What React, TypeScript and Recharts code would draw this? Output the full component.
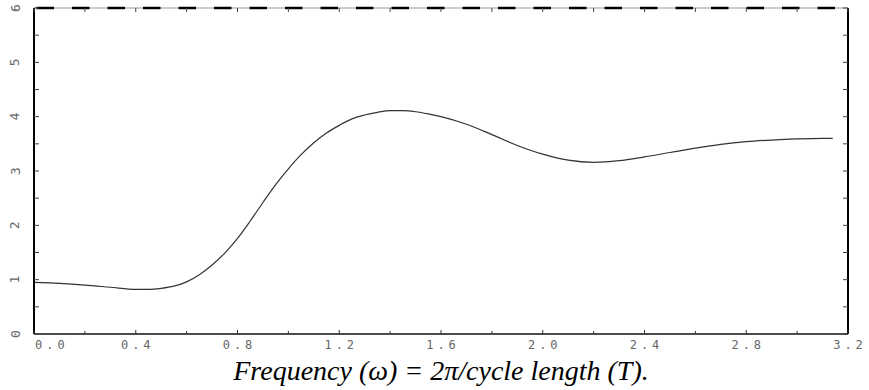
import React from "react";
import { LineChart, Line, XAxis, YAxis, ReferenceLine } from "recharts";

// Frequency values (omega) and spectrum values
const omega = [
  0.0, 0.1, 0.2, 0.3, 0.4, 0.45, 0.5, 0.55, 0.6, 0.65, 0.7, 0.75, 0.8, 0.85,
  0.9, 0.95, 1.0, 1.05, 1.1, 1.15, 1.2, 1.25, 1.3, 1.35, 1.4, 1.45, 1.5, 1.55,
  1.6, 1.7, 1.8, 1.9, 2.0, 2.1, 2.2, 2.3, 2.4, 2.5, 2.6, 2.7, 2.8, 2.9, 3.0,
  3.1, 3.14,
];
const spectrum = [
  0.95, 0.93, 0.9, 0.86, 0.82, 0.82, 0.84, 0.88, 0.96, 1.09, 1.27, 1.49, 1.76,
  2.08, 2.42, 2.75, 3.04, 3.3, 3.52, 3.7, 3.84, 3.96, 4.03, 4.08, 4.11, 4.11,
  4.09, 4.05, 4.0, 3.86, 3.67, 3.47, 3.31, 3.2, 3.16, 3.19, 3.26, 3.34, 3.42,
  3.49, 3.54, 3.57, 3.59, 3.6, 3.6,
];

const xTicks = [
  0, 0.2, 0.4, 0.6, 0.8, 1.0, 1.2, 1.4, 1.6, 1.8, 2.0, 2.2, 2.4, 2.6, 2.8, 3.0,
  3.2,
];
const xMajorTicks = [0, 0.4, 0.8, 1.2, 1.6, 2.0, 2.4, 2.8, 3.2];
const xTickLabels = ["0.0", "0.4", "0.8", "1.2", "1.6", "2.0", "2.4", "2.8", "3.2"];

const yTicks = [0, 0.5, 1, 1.5, 2, 2.5, 3, 3.5, 4, 4.5, 5, 5.5, 6];
const yMajorTicks = [0, 1, 2, 3, 4, 5, 6];
const yTickLabels = ["0", "1", "2", "3", "4", "5", "6"];

const xTitle = "Frequency (\u03C9) = 2\u03C0/cycle length (T).";

const data = omega.map((x, i) => ({ x, y: spectrum[i] }));

const findIdx = (arr: number[], v: number) =>
  arr.findIndex((a) => Math.abs(a - v) < 1e-6);

const tickFont = {
  fontFamily: "DejaVu Sans Mono",
  fontSize: 12,
  fill: "#666",
  letterSpacing: 4,
};

const BottomTick = (props: any) => {
  const { x, y, payload } = props;
  const idx = findIdx(xMajorTicks, payload.value);
  const major = idx >= 0;
  const first = idx === 0;
  return (
    <g>
      <line x1={x} y1={y} x2={x} y2={y - (major ? 4 : 3)} stroke="#333" strokeWidth={1} />
      {major && (
        <text
          x={first ? x + 1 : x + 2}
          y={y + 15}
          textAnchor={first ? "start" : "middle"}
          {...tickFont}
        >
          {xTickLabels[idx]}
        </text>
      )}
    </g>
  );
};

const TopTick = (props: any) => {
  const { x, y } = props;
  return <line x1={x} y1={y} x2={x} y2={y + 4} stroke="#444" strokeWidth={1} />;
};

const LeftTick = (props: any) => {
  const { x, y, payload } = props;
  const idx = findIdx(yMajorTicks, payload.value);
  const lx = x - 19;
  return (
    <g>
      <line x1={x} y1={y} x2={x + 5} y2={y} stroke="#444" strokeWidth={1} />
      {idx >= 0 && (
        <text
          x={lx}
          y={y}
          textAnchor="middle"
          dominantBaseline="central"
          transform={`rotate(-90, ${lx}, ${y})`}
          fontFamily="DejaVu Sans Mono"
          fontSize={13}
          fill="#666"
        >
          {yTickLabels[idx]}
        </text>
      )}
    </g>
  );
};

const RightTick = (props: any) => {
  const { x, y } = props;
  return <line x1={x} y1={y} x2={x - 5} y2={y} stroke="#444" strokeWidth={1} />;
};

export default function App() {
  return (
    <div style={{ position: "absolute", left: 0, top: 0, background: "#fff" }}>
      <LineChart
        width={869}
        height={390}
        data={data}
        margin={{ top: 7, right: 20, bottom: 0, left: 0 }}
      >
        <XAxis
          dataKey="x"
          type="number"
          domain={[0, 3.2]}
          ticks={xTicks}
          interval={0}
          height={56}
          tickSize={0}
          tickMargin={0}
          tickLine={false}
          tick={<BottomTick />}
          axisLine={{ stroke: "#111", strokeWidth: 1.5 }}
          label={{
            value: xTitle,
            position: "insideBottom",
            offset: 10,
            style: {
              fontFamily: "Liberation Serif",
              fontStyle: "italic",
              fontSize: 28,
              fill: "#000",
            },
          }}
        />
        <XAxis
          xAxisId="top"
          orientation="top"
          dataKey="x"
          type="number"
          domain={[0, 3.2]}
          ticks={xTicks}
          interval={0}
          height={1}
          tickSize={0}
          tickMargin={0}
          tickLine={false}
          tick={<TopTick />}
          axisLine={{
            stroke: "#000",
            strokeWidth: 2.5,
            strokeDasharray: "17.5 18",
            strokeDashoffset: -2.5,
          }}
        />
        <YAxis
          type="number"
          domain={[0, 6]}
          ticks={yTicks}
          interval={0}
          width={34}
          tickSize={0}
          tickMargin={0}
          tickLine={false}
          tick={<LeftTick />}
          axisLine={{ stroke: "#000", strokeWidth: 2 }}
        />
        <YAxis
          yAxisId="right"
          orientation="right"
          type="number"
          domain={[0, 6]}
          ticks={yTicks}
          interval={0}
          width={1}
          tickSize={0}
          tickMargin={0}
          tickLine={false}
          tick={<RightTick />}
          axisLine={{ stroke: "#000", strokeWidth: 2 }}
        />
        <ReferenceLine y={6} stroke="#999" strokeWidth={1} />
        <Line
          xAxisId="top"
          yAxisId="right"
          type="monotone"
          dataKey="y"
          stroke="none"
          dot={false}
          activeDot={false}
          isAnimationActive={false}
        />
        <Line
          type="monotone"
          dataKey="y"
          stroke="#333"
          strokeWidth={1.2}
          dot={false}
          isAnimationActive={false}
        />
      </LineChart>
    </div>
  );
}
